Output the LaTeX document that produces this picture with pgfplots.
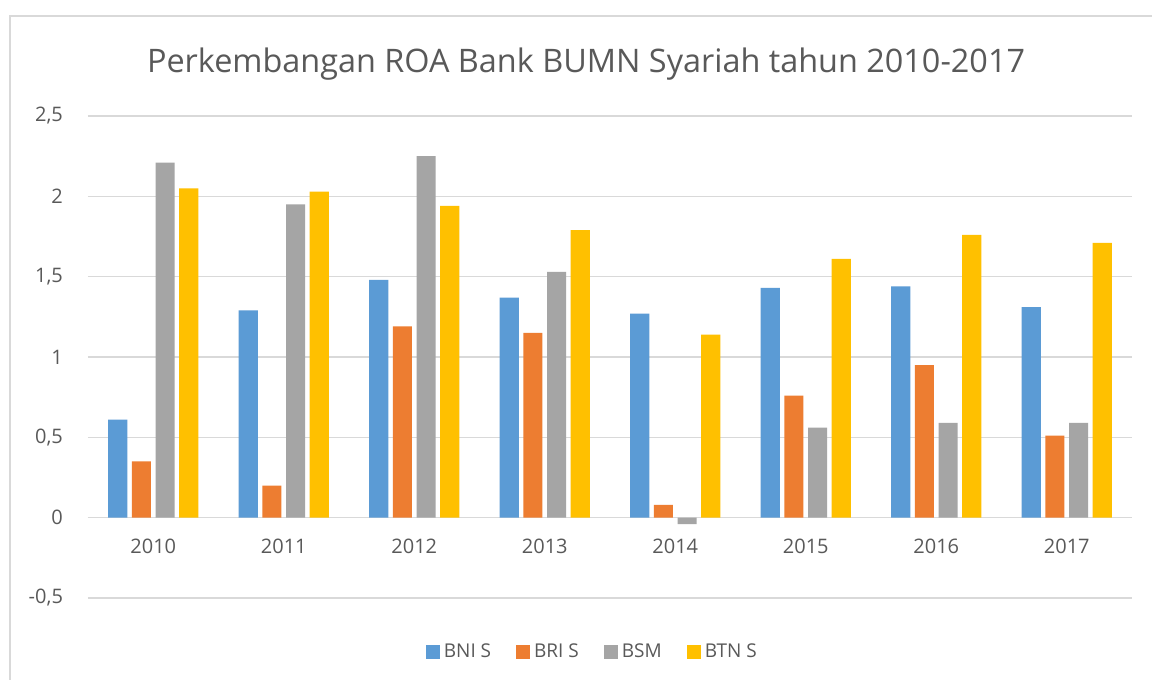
\documentclass[border=0pt]{standalone}
\usepackage{pgfplots}
\pgfplotsset{compat=1.18}
\usepackage{fontspec}
\setmainfont{Open Sans}
\definecolor{c1}{HTML}{5B9BD5}
\definecolor{c2}{HTML}{ED7D31}
\definecolor{c3}{HTML}{A5A5A5}
\definecolor{c4}{HTML}{FFC000}
\definecolor{txt}{HTML}{595959}
\definecolor{grd}{HTML}{D9D9D9}
\begin{document}
\begin{tikzpicture}
\clip (-44pt,-41pt) rectangle (532pt,299pt);
\fill[white] (-44pt,-41pt) rectangle (532pt,299pt);
\begin{axis}[
  at={(0,0)}, anchor=south west,
  scale only axis, width=522pt, height=241pt,
  xmin=-0.5, xmax=7.5, ymin=-0.5, ymax=2.5,
  axis x line=middle, axis y line=left,
  x axis line style={-, draw=grd, line width=0.8pt},
  y axis line style={draw=none},
  major tick length=0pt,
  xtick={0,1,2,3,4,5,6,7},
  xticklabels={2010,2011,2012,2013,2014,2015,2016,2017},
  ytick={-0.5,0,0.5,1,1.5,2,2.5},
  yticklabels={{-0,5},{0},{0,5},{1},{1,5},{2},{2,5}},
  ymajorgrids, grid style={draw=grd, line width=0.8pt},
  xticklabel style={font=\fontsize{10}{12}\selectfont, text=txt, yshift=-7pt},
  yticklabel style={font=\fontsize{10}{12}\selectfont, text=txt, anchor=east, xshift=-9pt},
  legend style={at={(0.484,-0.112)}, anchor=center, draw=none, fill=none,
    font=\fontsize{9.5}{11}\selectfont, text=txt,
    /tikz/every even column/.append style={column sep=10.5pt}},
  legend columns=-1,
  legend image code/.code={\fill[#1] (0pt,-3.5pt) rectangle (7pt,3.5pt);},
]
\addplot[ybar, fill=c1, draw=none, bar width=0.146, bar shift=-0.272] coordinates {
 (0,0.61) (1,1.29) (2,1.48) (3,1.37) (4,1.27) (5,1.43) (6,1.44) (7,1.31)};
\addplot[ybar, fill=c2, draw=none, bar width=0.146, bar shift=-0.091] coordinates {
 (0,0.35) (1,0.20) (2,1.19) (3,1.15) (4,0.08) (5,0.76) (6,0.95) (7,0.51)};
\addplot[ybar, fill=c3, draw=none, bar width=0.146, bar shift=0.091] coordinates {
 (0,2.21) (1,1.95) (2,2.25) (3,1.53) (4,-0.04) (5,0.56) (6,0.59) (7,0.59)};
\addplot[ybar, fill=c4, draw=none, bar width=0.146, bar shift=0.272] coordinates {
 (0,2.05) (1,2.03) (2,1.94) (3,1.79) (4,1.14) (5,1.61) (6,1.76) (7,1.71)};
\legend{BNI S, BRI S, BSM, BTN S}
\end{axis}
\node[anchor=base, text=txt, font=\fontsize{16.2}{19}\selectfont, inner sep=0pt] at (249pt,262.6pt) {Perkembangan ROA Bank BUMN Syariah tahun 2010-2017};
\draw[grd, line width=0.8pt] (-39pt,-80pt) rectangle (580pt,291pt);
\end{tikzpicture}
\end{document}
